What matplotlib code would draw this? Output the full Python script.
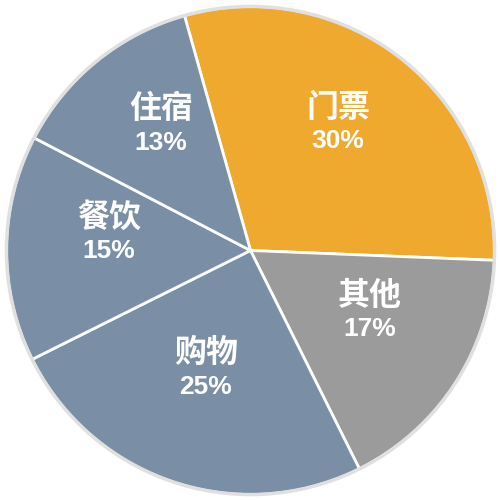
import matplotlib
matplotlib.use("Agg")
import matplotlib.pyplot as plt
import numpy as np

categories = ["门票", "其他", "购物", "餐饮", "住宿"]
values = [30, 17, 25, 15, 13]
colors = ["#F0A92F", "#9B9B9B", "#7A8FA6", "#7A8FA6", "#7A8FA6"]

plt.rcParams['font.family'] = ['Noto Sans CJK SC', 'DejaVu Sans']

fig = plt.figure(figsize=(5, 5), dpi=100)
ax = fig.add_axes([0.008, 0.006, 0.986, 0.986])
wedges, _ = ax.pie(values, colors=colors, startangle=105.7, counterclock=False,
                   wedgeprops=dict(edgecolor="white", linewidth=2.0))
# light outer outline
circle = plt.Circle((0, 0), 1.0, fill=False, edgecolor="#E0E0E0", linewidth=2.5)
ax.add_patch(circle)

dist = 0.58
for w, name, v in zip(wedges, categories, values):
    ang = np.deg2rad((w.theta1 + w.theta2) / 2)
    x, y = dist * np.cos(ang), dist * np.sin(ang) + 0.06
    ax.text(x, y + 0.07, name, ha="center", va="center", color="white",
            fontsize=23, fontweight="bold")
    ax.text(x, y - 0.068, f"{v}%", ha="center", va="center", color="white",
            fontsize=19, fontweight="bold", family=['Liberation Sans', 'DejaVu Sans'])

ax.set_xlim(-1.01, 1.01)
ax.set_ylim(-1.01, 1.01)
ax.set_aspect("equal")
ax.axis("off")
fig.savefig("out.png", dpi=100, facecolor="white")
